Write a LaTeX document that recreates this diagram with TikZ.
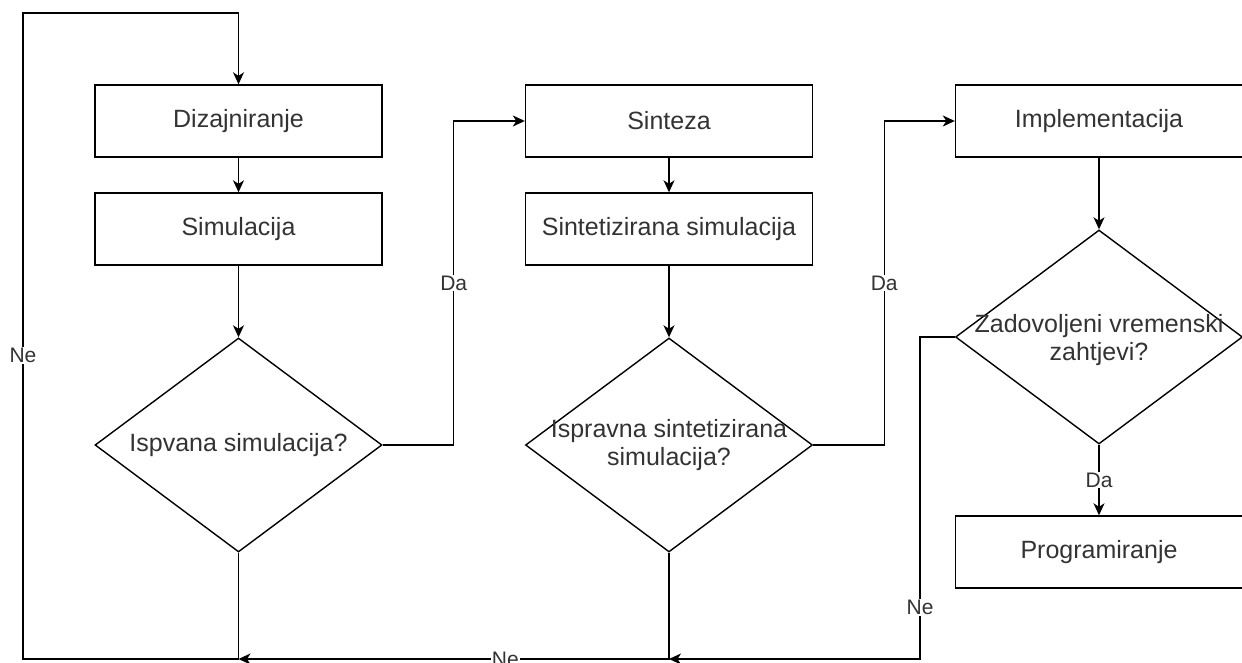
\documentclass[tikz,border=0pt]{standalone}
\usepackage{fontspec}
\setmainfont{Liberation Sans}
\usetikzlibrary{shapes.geometric,arrows.meta}

\begin{document}
\begin{tikzpicture}[x=1pt, y=-1pt, line width=1.4pt,
    box/.style={draw, minimum width=287pt, minimum height=72pt, inner sep=0pt,
        text=black!80, font=\fontsize{25}{30}\selectfont},
    cond/.style={draw, diamond, minimum width=287pt, minimum height=214pt, inner sep=0pt},
    ctext/.style={align=center, text=black!80, font=\fontsize{25}{28}\selectfont},
    lbl/.style={fill=white, inner sep=1pt, text=black!80, font=\fontsize{21}{25}\selectfont},
    arr/.style={-{Stealth[length=12pt,width=11pt,inset=3.5pt]}}]
    \useasboundingbox (0,0) rectangle (1242,663);
    % prvi stupac
    \node [box] (diz) at (238.5,121) {Dizajniranje};
    \node [box] (sim) at (238.5,229) {Simulacija};
    \node [cond] (d1) at (238.5,445) {};
    \node [ctext] at (d1) {Ispvana simulacija?};
    % drugi stupac
    \node [box] (sin) at (669,121) {Sinteza};
    \node [box] (ssim) at (669,229) {Sintetizirana simulacija};
    \node [cond] (d2) at (669,445) {};
    \node [ctext] at (d2) {Ispravna sintetizirana\\simulacija?};
    % treci stupac
    \node [box] (imp) at (1099,121) {Implementacija};
    \node [cond] (d3) at (1099,337) {};
    \node [ctext] at (1099,340) {Zadovoljeni vremenski\\zahtjevi?};
    \node [box] (prog) at (1099,552) {Programiranje};
    % pomocne tocke
    \coordinate (bl) at (23,659);
    \coordinate (tl) at (23,13);
    \coordinate (br) at (920,659);
    % strelice
    \draw [arr] (diz) -- (sim);
    \draw [arr] (sim) -- (d1);
    \draw [arr] (sin) -- (ssim);
    \draw [arr] (ssim) -- (d2);
    \draw [arr] (imp) -- (d3);
    \draw [arr] (d3.south) -- node[lbl] {Da} (prog.north);
    \draw [arr] (d1.east) -- ++(71,0) |- (sin.west) node[lbl, pos=0.25] {Da};
    \draw [arr] (d2.east) -- ++(71,0) |- (imp.west) node[lbl, pos=0.25] {Da};
    \draw [arr] (d1.south) |- (bl) -- node[lbl, pos=0.47] {Ne} (tl) -| (diz.north);
    \draw [arr] (d2.south) |- (d1.south |- bl) node[lbl, pos=0.69] {Ne};
    \draw [arr] (d3.west) -| (br) node[lbl, pos=0.92] {Ne} -- (d2.south |- br);
\end{tikzpicture}
\end{document}
